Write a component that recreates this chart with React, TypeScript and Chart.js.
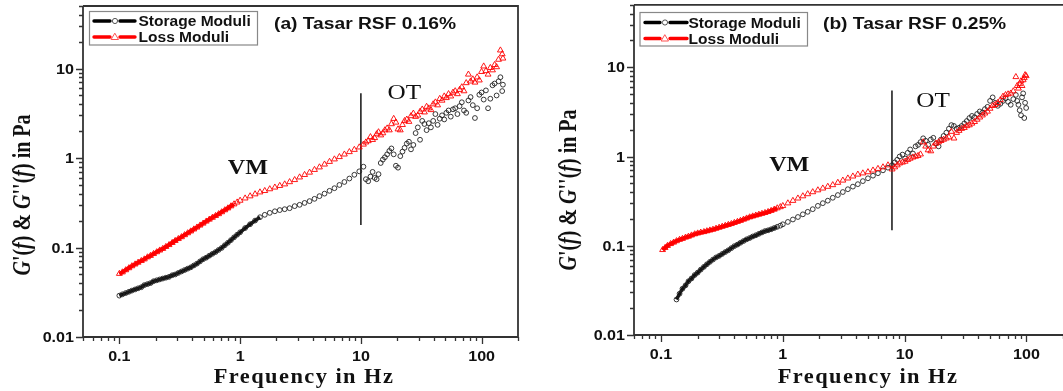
import React, { useEffect, useRef } from 'react';
import { Chart, registerables } from 'chart.js';
Chart.register(...registerables);

// ---------- Panel (a) data: Tasar RSF 0.16% ----------
const freqA = [0.1,0.106,0.113,0.12,0.127,0.135,0.143,0.152,0.161,0.171,0.181,0.192,0.204,0.216,0.229,0.243,0.258,0.274,0.29,0.308,0.327,0.347,0.368,0.39,0.414,0.439,0.466,0.494,0.524,0.556,0.59,0.626,0.664,0.704,0.747,0.792,0.84,0.891,0.945,
  1.0,1.1,1.21,1.33,1.46,1.6,1.76,1.94,2.13,2.34,2.57,2.83,3.11,3.42,3.76,4.13,4.54,5.0,5.5,6.04,6.64,7.3,8.03,8.83,9.7,
  10.5,11,11.5,12,12.5,13,13.5,14,14.6,15.2,15.8,16.5,17.2,17.9,18.7,19.5,20.3,21.2,22.1,23,24,25,26,27.2,28.4,29.6,30.9,32.2,33.6,35,36.5,38,39.7,41.4,43.2,45,47,49,51,53.2,55.5,57.9,60.4,63,65.7,68.5,71.4,74.5,77.7,81,84.5,88,91.8,95.7,99.8,104,108.5,113,118,123,128,133,138,143,148,150];
const storageA = [0.029,0.030,0.031,0.032,0.033,0.034,0.035,0.036,0.038,0.039,0.040,0.042,0.043,0.044,0.045,0.046,0.047,0.049,0.050,0.052,0.054,0.056,0.058,0.060,0.063,0.066,0.070,0.074,0.077,0.081,0.085,0.089,0.094,0.099,0.106,0.113,0.121,0.130,0.139,
  0.148,0.165,0.182,0.20,0.218,0.232,0.244,0.254,0.262,0.268,0.275,0.29,0.30,0.315,0.33,0.35,0.375,0.40,0.43,0.46,0.50,0.54,0.59,0.65,0.71,
  0.80,0.58,0.55,0.62,0.70,0.60,0.58,0.66,0.88,0.96,1.02,1.10,1.20,1.28,1.10,0.82,0.78,1.05,1.18,1.30,1.45,1.52,1.25,1.40,1.90,2.20,1.60,2.60,2.40,2.05,2.45,2.20,2.60,3.10,2.35,2.75,3.00,2.70,3.20,3.40,2.90,3.50,3.60,3.10,3.80,4.20,3.40,3.20,4.40,4.80,3.90,2.80,3.60,5.10,5.40,4.50,5.70,3.60,4.60,6.50,6.80,5.00,7.20,8.00,5.60,6.60];
const lossA = [0.051,0.053,0.056,0.059,0.062,0.065,0.068,0.071,0.074,0.078,0.081,0.085,0.089,0.093,0.097,0.102,0.107,0.113,0.119,0.125,0.131,0.138,0.145,0.152,0.160,0.168,0.177,0.186,0.196,0.206,0.216,0.226,0.237,0.249,0.262,0.275,0.290,0.305,0.320,
  0.335,0.355,0.375,0.395,0.415,0.43,0.45,0.47,0.49,0.51,0.54,0.57,0.61,0.65,0.69,0.74,0.79,0.85,0.91,0.97,1.03,1.10,1.17,1.24,1.32,
  1.42,1.50,1.55,1.72,1.60,1.68,1.85,1.95,1.80,1.90,2.05,2.15,2.05,2.40,2.75,2.50,2.10,2.05,2.35,2.60,2.70,2.55,2.95,3.15,2.90,3.00,3.30,3.50,3.25,3.75,3.60,3.45,4.00,4.20,3.90,4.60,4.40,4.90,4.70,5.20,4.90,5.40,5.60,5.20,5.80,6.20,5.60,6.90,8.60,7.20,7.60,7.00,8.00,7.40,9.20,10.6,9.40,8.60,10.2,9.60,11.0,10.4,12.6,16.0,14.5,13.0];
const boundaryAX = [10, 10];
const boundaryAY = [5.3, 0.179];

// ---------- Panel (b) data: Tasar RSF 0.25% ----------
const freqB = [0.103,0.108,0.113,0.12,0.127,0.134,0.142,0.15,0.159,0.168,0.178,0.189,0.2,0.212,0.225,0.238,0.252,0.267,0.283,0.3,0.318,0.337,0.357,0.378,0.4,0.424,0.449,0.476,0.504,0.534,0.566,0.6,0.636,0.674,0.714,0.757,0.802,0.85,0.9,0.954,
  1.0,1.1,1.21,1.33,1.46,1.6,1.76,1.94,2.13,2.34,2.57,2.83,3.11,3.42,3.76,4.13,4.54,5.0,5.5,6.04,6.64,7.3,
  7.9,8.3,8.7,9.1,9.6,10.1,10.6,11.1,11.7,12.3,12.9,13.5,14.2,14.9,15.6,16.4,17.2,18.1,19,19.9,20.9,22,23.1,24.2,25.4,26.7,28,29.4,30.9,32.4,34,35.7,37.5,39.4,41.4,43.5,45.6,47.9,50.3,52.8,55.4,58.2,61.1,64.2,67.4,70.7,74.3,78,81.9,84,86,88,90.3,92,94,96,97.5,99.5];
const storageB = [null,null,null,null,null,0.025,0.029,0.033,0.036,0.040,0.043,0.047,0.050,0.054,0.058,0.062,0.066,0.070,0.074,0.077,0.081,0.085,0.089,0.094,0.099,0.103,0.108,0.113,0.118,0.122,0.127,0.131,0.136,0.141,0.146,0.149,0.153,0.158,0.163,0.168,
  0.174,0.185,0.197,0.21,0.225,0.24,0.257,0.28,0.30,0.32,0.345,0.37,0.40,0.43,0.46,0.49,0.53,0.57,0.61,0.65,0.70,0.75,
  0.80,0.86,0.92,1.00,1.05,0.95,1.10,1.20,1.08,1.30,1.35,1.45,1.60,1.50,1.35,1.55,1.62,1.40,1.30,1.55,1.70,1.85,2.05,2.25,2.20,2.05,2.10,2.20,2.35,2.50,2.70,2.85,2.75,3.00,3.20,3.10,3.40,3.60,4.20,4.60,4.00,3.70,3.90,4.20,4.50,4.10,3.80,4.40,4.90,4.20,3.80,3.30,2.90,4.60,5.10,2.70,4.00,3.50];
const lossB = [0.090,0.095,0.100,0.105,0.109,0.113,0.117,0.120,0.124,0.127,0.131,0.135,0.138,0.141,0.143,0.146,0.149,0.152,0.156,0.160,0.164,0.168,0.172,0.176,0.181,0.186,0.191,0.197,0.203,0.209,0.214,0.219,0.224,0.229,0.234,0.240,0.247,0.255,0.264,0.272,
  0.28,0.30,0.32,0.34,0.36,0.38,0.40,0.42,0.44,0.46,0.48,0.51,0.54,0.57,0.60,0.63,0.65,0.67,0.70,0.73,0.76,0.80,
  0.72,0.76,0.80,0.84,0.86,0.88,0.92,0.95,0.98,1.00,1.02,1.06,1.45,1.30,1.18,1.15,1.30,1.40,1.45,1.50,1.55,1.60,1.65,1.90,1.60,1.85,1.95,2.05,2.10,2.20,2.25,2.35,2.45,2.60,2.75,2.90,3.05,3.20,3.45,3.70,3.80,4.00,4.30,4.70,4.90,5.00,5.10,5.40,7.80,6.20,5.80,6.50,7.00,6.20,7.20,7.60,8.20,8.00];
const boundaryBX = [7.87, 7.87];
const boundaryBY = [5.5, 0.149];

// ---------- axis labels ----------
const xTickValues = [0.1, 1, 10, 100];
const xTickLabels = ['0.1', '1', '10', '100'];
const yTickValues = [0.01, 0.1, 1, 10];
const yTickLabels = ['0.01', '0.1', '1', '10'];
const seriesNames = ['Storage Moduli', 'Loss Moduli'];

const SANS = '"Liberation Sans", Arial, Helvetica, sans-serif';
const SERIF = '"Liberation Serif", "Times New Roman", Times, serif';
const AXIS = '#333';
const RED = '#ff0000';
const CLEAR = 'rgba(0,0,0,0)';

type Panel = {
  freq: number[]; storage: (number | null)[]; loss: number[];
  bx: number[]; by: number[];
  xMin: number; xMax: number;
  width: number; left: number;
  yAxisW: number; xAxisH: number; padTop: number; padRight: number;
  drawRight: boolean;
  bandS: number; bandL: number;
  label: string; labelX: number; labelY: number;
  legend: { x: number; y: number; w: number; h: number; r1: number; r2: number; l0: number; l1: number; mk: number; tx: number };
  vm: [number, number]; ot: [number, number];
  yTitle: [number, number]; xTitle: [number, number];
};

const panels: Panel[] = [
  {
    freq: freqA, storage: storageA, loss: lossA, bx: boundaryAX, by: boundaryAY,
    xMin: 0.05, xMax: 200, width: 531, left: 0,
    yAxisW: 83, xAxisH: 54, padTop: 6, padRight: 13, drawRight: true,
    bandS: 1.5, bandL: 0.9,
    label: '(a) Tasar RSF 0.16%', labelX: 274, labelY: 28.5,
    legend: { x: 89.5, y: 11.5, w: 168, h: 33.5, r1: 21, r2: 37, l0: 94, l1: 135, mk: 115, tx: 138.5 },
    vm: [1.16, 0.8], ot: [22.9, 5.46],
    yTitle: [21, 195], xTitle: [304, 383],
  },
  {
    freq: freqB, storage: storageB, loss: lossB, bx: boundaryBX, by: boundaryBY,
    xMin: 0.06, xMax: 200, width: 537, left: 531,
    yAxisW: 103, xAxisH: 56, padTop: 4, padRight: 0, drawRight: false,
    bandS: 0.95, bandL: 0.95,
    label: '(b) Tasar RSF 0.25%', labelX: 292, labelY: 29,
    legend: { x: 109, y: 12.5, w: 167.5, h: 33.5, r1: 22.5, r2: 38.5, l0: 114, l1: 156, mk: 134, tx: 157.5 },
    vm: [1.13, 0.83], ot: [17.1, 4.27],
    yTitle: [36, 190], xTitle: [337, 383],
  },
];

function drawText(ctx: CanvasRenderingContext2D, text: string, x: number, y: number, font: string, align: string, sx: number, color = '#111', spacing = 0) {
  ctx.save();
  ctx.font = font;
  (ctx as any).letterSpacing = spacing + 'px';
  ctx.fillStyle = color;
  ctx.textBaseline = 'alphabetic';
  ctx.textAlign = 'left';
  const w = ctx.measureText(text).width * sx;
  let left = x;
  if (align === 'center') left = x - w / 2;
  else if (align === 'right') left = x - w;
  ctx.translate(left, y);
  ctx.scale(sx, 1);
  ctx.fillText(text, 0, 0);
  ctx.restore();
}

function drawYTitle(ctx: CanvasRenderingContext2D, cx: number, cy: number) {
  const segs: [string, boolean][] = [['G', true], ["'(", false], ['f', true], [') & ', false], ['G', true], ["''(", false], ['f', true], [') in Pa', false]];
  const fontOf = (it: boolean) => (it ? 'italic bold 20px ' : 'bold 20px ') + SERIF;
  ctx.save();
  let total = 0;
  for (const [t, it] of segs) { ctx.font = fontOf(it); total += ctx.measureText(t).width; }
  ctx.translate(cx, cy);
  ctx.scale(1.25, 1);
  ctx.rotate(-Math.PI / 2);
  ctx.fillStyle = '#111';
  ctx.textBaseline = 'alphabetic';
  ctx.textAlign = 'left';
  let u = -total / 2;
  for (const [t, it] of segs) {
    ctx.font = fontOf(it);
    ctx.fillText(t, u, 7);
    u += ctx.measureText(t).width;
  }
  ctx.restore();
}

function makePlugin(p: Panel) {
  return {
    id: 'decor',
    afterDraw(chart: any) {
      const ctx: CanvasRenderingContext2D = chart.ctx;
      const a = chart.chartArea;
      const xs = chart.scales.x;
      const ys = chart.scales.y;
      ctx.save();
      // frame
      ctx.strokeStyle = AXIS;
      ctx.lineWidth = 1.8;
      ctx.beginPath();
      ctx.moveTo(a.left, a.top); ctx.lineTo(a.left, a.bottom); ctx.lineTo(a.right, a.bottom);
      ctx.moveTo(a.left, a.top); ctx.lineTo(a.right, a.top);
      if (p.drawRight) ctx.lineTo(a.right, a.bottom);
      ctx.stroke();
      // tick marks
      ctx.lineWidth = 1.3;
      ctx.beginPath();
      for (let e = -3; e <= 3; e++) {
        for (let m = 1; m <= 9; m++) {
          const v = m * Math.pow(10, e);
          const len = m === 1 ? 7 : 4;
          if (v >= xs.min * 0.999 && v <= xs.max * 1.001) {
            const px = Math.round(xs.getPixelForValue(v)) + 0.5;
            ctx.moveTo(px, a.bottom); ctx.lineTo(px, a.bottom + len);
          }
          if (v >= ys.min * 0.999 && v <= ys.max * 1.001) {
            const py = Math.round(ys.getPixelForValue(v)) + 0.5;
            ctx.moveTo(a.left, py); ctx.lineTo(a.left - len, py);
          }
        }
      }
      ctx.stroke();
      ctx.restore();
      // tick labels
      xTickValues.forEach((v, i) => {
        drawText(ctx, xTickLabels[i], xs.getPixelForValue(v), a.bottom + 24, 'bold 14px ' + SANS, 'center', 1.15);
      });
      yTickValues.forEach((v, i) => {
        drawText(ctx, yTickLabels[i], a.left - 9, ys.getPixelForValue(v) + 5, 'bold 14px ' + SANS, 'right', 1.15);
      });
      // axis titles
      drawText(ctx, 'Frequency in Hz', p.xTitle[0], p.xTitle[1], 'bold 20px ' + SERIF, 'center', 1.12, '#111', 1.3);
      drawYTitle(ctx, p.yTitle[0], p.yTitle[1]);
      // panel label
      drawText(ctx, p.label, p.labelX, p.labelY, 'bold 16px ' + SANS, 'left', 1.2);
      // VM / OT
      drawText(ctx, 'VM', xs.getPixelForValue(p.vm[0]), ys.getPixelForValue(p.vm[1]) + 7, 'bold 21px ' + SERIF, 'center', 1.15);
      drawText(ctx, 'OT', xs.getPixelForValue(p.ot[0]), ys.getPixelForValue(p.ot[1]) + 7, '21px ' + SERIF, 'center', 1.2);
      // legend
      const L = p.legend;
      ctx.save();
      ctx.fillStyle = '#fff';
      ctx.fillRect(L.x, L.y, L.w, L.h);
      ctx.strokeStyle = '#888';
      ctx.lineWidth = 1.2;
      ctx.strokeRect(L.x, L.y, L.w, L.h);
      ctx.beginPath();
      ctx.rect(L.x, L.y, L.w, L.h);
      ctx.clip();
      const rows: [number, string, string][] = [[L.r1, '#000', seriesNames[0]], [L.r2, RED, seriesNames[1]]];
      rows.forEach(([ry, col, name], idx) => {
        ctx.strokeStyle = col;
        ctx.lineWidth = 3.4;
        ctx.lineCap = 'round';
        ctx.beginPath();
        ctx.moveTo(L.l0, ry); ctx.lineTo(L.mk - 5, ry);
        ctx.moveTo(L.mk + 5, ry); ctx.lineTo(L.l1, ry);
        ctx.stroke();
        ctx.lineWidth = 1;
        ctx.beginPath();
        if (idx === 0) {
          ctx.strokeStyle = '#555';
          ctx.arc(L.mk, ry, 2.6, 0, Math.PI * 2);
        } else {
          ctx.strokeStyle = '#ff5050';
          ctx.moveTo(L.mk, ry - 3.5); ctx.lineTo(L.mk + 3.5, ry + 2.5); ctx.lineTo(L.mk - 3.5, ry + 2.5); ctx.closePath();
        }
        ctx.stroke();
        drawText(ctx, name, L.tx, ry + 5, 'bold 14px ' + SANS, 'left', 1.11);
      });
      ctx.restore();
    },
  };
}

function PanelChart({ p }: { p: Panel }) {
  const ref = useRef<HTMLCanvasElement>(null);
  useEffect(() => {
    if (!ref.current) return;
    const storagePts = p.freq.map((f, i) => ({ x: f, y: p.storage[i] })).filter((d) => d.y != null);
    const lossPts = p.freq.map((f, i) => ({ x: f, y: p.loss[i] })).filter((d) => d.y != null);
    const boundaryPts = p.bx.map((x, i) => ({ x, y: p.by[i] }));
    const chart = new Chart(ref.current, {
      type: 'scatter',
      data: {
        datasets: [
          {
            label: seriesNames[1], data: lossPts, order: 0,
            pointStyle: 'triangle', pointRadius: 3.4, borderWidth: 0.9,
            borderColor: RED, backgroundColor: 'rgba(255,255,255,0)',
            showLine: true,
            segment: {
              borderColor: (c: any) => (c.p1.parsed.x <= p.bandL ? RED : CLEAR),
              borderWidth: 4,
            },
          },
          {
            label: seriesNames[0], data: storagePts as any, order: 1,
            pointStyle: 'circle', pointRadius: 2.4, borderWidth: 0.9,
            borderColor: '#222', backgroundColor: 'rgba(255,255,255,0)',
            showLine: true,
            segment: {
              borderColor: (c: any) => (c.p1.parsed.x <= p.bandS ? '#111' : CLEAR),
              borderWidth: 3.5,
            },
          },
          {
            label: 'boundary', data: boundaryPts, order: 2, type: 'line' as any,
            showLine: true, pointRadius: 0, borderColor: '#222', borderWidth: 1.6, fill: false,
          },
        ],
      },
      options: {
        responsive: false,
        animation: false,
        events: [],
        layout: { padding: { left: 0, right: p.padRight, top: p.padTop, bottom: 0 } },
        plugins: { legend: { display: false }, tooltip: { enabled: false }, title: { display: false } },
        scales: {
          x: {
            type: 'logarithmic', min: p.xMin, max: p.xMax, position: 'bottom',
            grid: { display: false, drawTicks: false }, border: { display: false },
            ticks: { display: false },
            afterFit: (s: any) => { s.height = p.xAxisH; },
          },
          y: {
            type: 'logarithmic', min: 0.01, max: 50, position: 'left',
            grid: { display: false, drawTicks: false }, border: { display: false },
            ticks: { display: false },
            afterFit: (s: any) => { s.width = p.yAxisW; },
          },
        },
      },
      plugins: [makePlugin(p)],
    } as any);
    return () => chart.destroy();
  }, [p]);
  return (
    <canvas
      ref={ref}
      width={p.width}
      height={391}
      style={{ position: 'absolute', left: p.left, top: 0, width: p.width, height: 391 }}
    />
  );
}

export default function App() {
  return (
    <div style={{ position: 'absolute', left: 0, top: 0, width: 1063, height: 391, overflow: 'hidden', background: '#fff' }}>
      {panels.map((p, i) => (
        <PanelChart key={i} p={p} />
      ))}
    </div>
  );
}
